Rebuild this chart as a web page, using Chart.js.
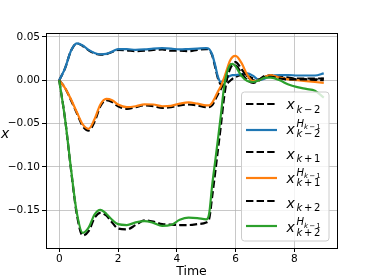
<!DOCTYPE html>
<html>
<head>
<meta charset="utf-8">
<script src="https://cdn.jsdelivr.net/npm/chart.js@4.4.0/dist/chart.umd.min.js"></script>
<style>
  body { margin: 0; background: #fff; }
  #wrap { width: 374px; height: 279px; }
</style>
</head>
<body>
<div id="wrap"><canvas id="stateChart" width="374" height="279"></canvas></div>
<script>
// sample times
const time = [0, 0.2, 0.4, 0.6, 0.8, 1.0, 1.2, 1.4, 1.6, 1.8, 2.0, 2.3, 2.6, 2.9, 3.2, 3.5, 3.8, 4.1, 4.4, 4.7,
              5.0, 5.1, 5.2, 5.3, 5.4, 5.5, 5.6, 5.7, 5.8, 5.9, 6.0, 6.2, 6.4, 6.6, 6.8, 7.0, 7.2, 7.5, 7.8, 8.1,
              8.4, 8.7, 9.0];

const xKm2 = [0, 0.014, 0.034, 0.0425, 0.0395, 0.0345, 0.031, 0.0295, 0.030, 0.0325, 0.035, 0.0345, 0.0335, 0.034, 0.035, 0.0355, 0.034, 0.034, 0.0335, 0.035,
              0.036, 0.035, 0.029, 0.016, 0.002, -0.005, -0.006, -0.004, -0.001, 0.002, 0.004, 0.006, 0.005, 0.002, 0.000, 0.004, 0.006, 0.004, 0.003, 0.002,
              0.002, 0.002, 0.002];
const hKm2 = [0, 0.014, 0.034, 0.0425, 0.040, 0.035, 0.0315, 0.030, 0.0305, 0.033, 0.036, 0.036, 0.035, 0.0355, 0.0365, 0.037, 0.0365, 0.0355, 0.036, 0.0365,
              0.037, 0.036, 0.030, 0.018, 0.004, -0.002, 0.000, 0.003, 0.005, 0.006, 0.006, 0.007, 0.008, 0.005, 0.000, 0.002, 0.005, 0.006, 0.006, 0.0055,
              0.0055, 0.0055, 0.008];

const xKp1 = [0, -0.009, -0.023, -0.038, -0.053, -0.058, -0.048, -0.030, -0.023, -0.025, -0.030, -0.033, -0.031, -0.029, -0.030, -0.032, -0.031, -0.029, -0.028, -0.029,
              -0.031, -0.031, -0.029, -0.023, -0.016, -0.010, -0.002, 0.008, 0.016, 0.020, 0.021, 0.013, 0.004, 0.000, 0.001, 0.005, 0.005, 0.003, 0.002, 0.001,
              0.001, 0.000, 0.000];
const hKp1 = [0, -0.009, -0.022, -0.037, -0.051, -0.056, -0.045, -0.028, -0.0215, -0.023, -0.028, -0.031, -0.030, -0.0278, -0.028, -0.030, -0.0295, -0.027, -0.0255, -0.027,
              -0.029, -0.029, -0.026, -0.020, -0.013, -0.007, 0.002, 0.012, 0.022, 0.027, 0.028, 0.020, 0.006, -0.001, 0.000, 0.004, 0.006, 0.003, 0.001, 0.000,
              -0.001, -0.002, -0.003];

const xKp2 = [0, -0.045, -0.103, -0.155, -0.179, -0.174, -0.159, -0.153, -0.156, -0.164, -0.171, -0.172, -0.167, -0.1615, -0.163, -0.166, -0.1665, -0.167, -0.167, -0.166,
              -0.164, -0.160, -0.135, -0.108, -0.080, -0.052, -0.022, 0.000, 0.012, 0.017, 0.017, 0.008, 0.000, -0.003, 0.000, 0.004, 0.004, 0.002, 0.001, 0.001,
              0.001, 0.001, 0.002];
const hKp2 = [0, -0.045, -0.102, -0.153, -0.176, -0.170, -0.155, -0.1495, -0.154, -0.161, -0.166, -0.167, -0.164, -0.1625, -0.1645, -0.168, -0.167, -0.161, -0.1585, -0.159,
              -0.1605, -0.154, -0.122, -0.095, -0.068, -0.040, -0.010, 0.008, 0.017, 0.019, 0.016, 0.005, -0.001, -0.002, 0.000, 0.003, 0.003, 0.000, -0.005, -0.008,
              -0.010, -0.012, -0.020];

const xTicks = [0, 2, 4, 6, 8];
const yTicks = [0.05, 0, -0.05, -0.10, -0.15];
const legendSubs = ['k−2', 'k−2', 'k+1', 'k+1', 'k+2', 'k+2'];
const legendHasSup = [false, true, false, true, false, true];

const BLUE = '#1f77b4', ORANGE = '#ff7f0e', GREEN = '#2ca02c';
const DASH = [7.4, 3.2];
const FONT = '"DejaVu Sans", sans-serif';

function pts(ys) {
    return time.map((t, i) => ({ x: t, y: ys[i] }));
}

function series(ys, color, dashed, order) {
    return {
        data: pts(ys),
        borderColor: color,
        borderWidth: 2.2,
        borderDash: dashed ? DASH : [],
        pointRadius: 0,
        fill: false,
        cubicInterpolationMode: 'monotone',
        order: order
    };
}

// draws a small mathtext-like string: letters italic, operators spaced
function drawMath(ctx, str, x, y, size) {
    let cx = x;
    for (const ch of str) {
        const isLetter = /[a-zA-Z]/.test(ch);
        const isOp = ch === '−' || ch === '+';
        ctx.font = (isLetter ? 'italic ' : '') + size + 'px ' + FONT;
        if (isOp) cx += size * 0.17;
        ctx.fillText(ch, cx, y);
        cx += ctx.measureText(ch).width;
        if (isOp) cx += size * 0.17;
    }
    return cx - x;
}

const framePlugin = {
    id: 'framePlugin',
    afterDraw(chart) {
        const ctx = chart.ctx, a = chart.chartArea;
        ctx.save();
        // axes box
        ctx.strokeStyle = '#000';
        ctx.lineWidth = 1;
        ctx.strokeRect(Math.round(a.left) + 0.5, Math.round(a.top) + 0.5,
                       Math.round(a.right - a.left), Math.round(a.bottom - a.top));

        // y label
        ctx.fillStyle = '#000';
        ctx.textBaseline = 'alphabetic';
        ctx.textAlign = 'left';
        ctx.font = 'italic 14px ' + FONT;
        ctx.fillText('x', 1, 138);

        // legend frame
        const lx = 241.5, ly = 92, lw = 87.5, lh = 149;
        ctx.beginPath();
        if (ctx.roundRect) ctx.roundRect(lx, ly, lw, lh, 3);
        else ctx.rect(lx, ly, lw, lh);
        ctx.fillStyle = 'rgba(255,255,255,0.8)';
        ctx.fill();
        ctx.strokeStyle = '#cccccc';
        ctx.lineWidth = 1;
        ctx.stroke();

        const ds = chart.data.datasets;
        const handleY = [104, 130, 152, 178, 201, 226];
        for (let i = 0; i < legendSubs.length; i++) {
            const d = ds[i];
            const base = 109.3 + 24.6 * i;
            ctx.beginPath();
            ctx.setLineDash(d.borderDash);
            ctx.strokeStyle = d.borderColor;
            ctx.lineWidth = d.borderWidth;
            ctx.moveTo(246, handleY[i]);
            ctx.lineTo(277, handleY[i]);
            ctx.stroke();
            ctx.setLineDash([]);

            ctx.fillStyle = '#000';
            ctx.font = 'italic 14px ' + FONT;
            ctx.fillText('x', 286.5, base);
            drawMath(ctx, legendSubs[i], 296.5, base + 3.2, 10);
            if (legendHasSup[i]) {
                const w = drawMath(ctx, 'H', 296.5, base - 7, 10);
                drawMath(ctx, 'k−1', 296.5 + w, base - 4.8, 7);
            }
        }
        ctx.restore();
    }
};

const ctx = document.getElementById('stateChart').getContext('2d');
Chart.defaults.font.family = FONT;
Chart.defaults.color = '#000';

new Chart(ctx, {
    type: 'line',
    data: {
        datasets: [
            series(xKm2, '#000', true, 6),
            series(hKm2, BLUE, false, 5),
            series(xKp1, '#000', true, 4),
            series(hKp1, ORANGE, false, 3),
            series(xKp2, '#000', true, 2),
            series(hKp2, GREEN, false, 1)
        ]
    },
    options: {
        responsive: false,
        animation: false,
        devicePixelRatio: 1,
        layout: { padding: { left: 0, top: 33, right: 37, bottom: 0 } },
        plugins: { legend: { display: false }, tooltip: { enabled: false } },
        scales: {
            x: {
                type: 'linear',
                min: -0.45,
                max: 9.45,
                afterBuildTicks: s => { s.ticks = xTicks.map(v => ({ value: v })); },
                afterFit: s => { s.height = 31; },
                ticks: { font: { size: 10.5 }, padding: 1, maxRotation: 0 },
                grid: { color: 'rgba(176,176,176,0.7)', lineWidth: 1, tickColor: '#000', tickLength: 4 },
                border: { display: false },
                title: { display: true, text: 'Time', font: { size: 12.5 }, padding: { top: 0, bottom: 0 } }
            },
            y: {
                min: -0.1935,
                max: 0.0545,
                afterBuildTicks: s => { s.ticks = yTicks.map(v => ({ value: v })); },
                afterFit: s => { s.width = 46; },
                ticks: {
                    font: { size: 10.5 },
                    padding: 2,
                    callback: v => v.toFixed(2).replace('-', '\u2212')
                },
                grid: { color: 'rgba(176,176,176,0.7)', lineWidth: 1, tickColor: '#000', tickLength: 4 },
                border: { display: false }
            }
        }
    },
    plugins: [framePlugin]
});
</script>
</body>
</html>
